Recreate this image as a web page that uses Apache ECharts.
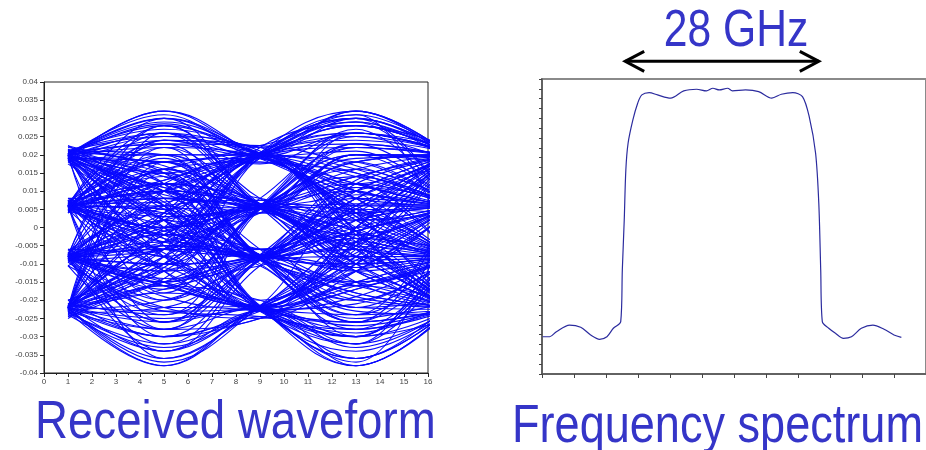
<!DOCTYPE html>
<html><head><meta charset="utf-8">
<script src="https://cdn.jsdelivr.net/npm/echarts@6/dist/echarts.min.js"></script>
<style>html,body{margin:0;padding:0;background:#fff}#c{width:926px;height:450px}</style>
</head><body><div id="c"></div>
<script>
// ---- Eye diagram (received waveform) ----
const eyeX = [1, 5, 9, 13, 17];            // sample instants of each trace
const eyeTraces = [
 [.0200,.0310,.0205,.0320,.0195],[.0195,.0285,.0190,.0150,.0060],[.0210,.0270,.0200,.0050,-.0080],
 [.0185,.0250,.0210,-.0010,-.0220],[.0205,.0230,.0195,.0260,.0205],[.0190,.0180,.0060,.0140,.0200],
 [.0215,.0140,.0055,.0065,.0060],[.0200,.0110,.0065,-.0010,-.0085],[.0195,.0090,.0050,-.0080,-.0225],
 [.0205,.0230,.0060,.0200,.0195],[.0180,.0060,-.0080,.0060,.0200],[.0200,.0020,-.0085,-.0010,.0055],
 [.0210,.0100,-.0075,-.0100,-.0080],[.0195,-.0020,-.0090,-.0180,-.0220],[.0190,.0000,-.0220,-.0020,.0200],
 [.0205,-.0050,-.0215,-.0090,.0060],[.0200,.0060,-.0230,-.0170,-.0080],[.0185,-.0080,-.0220,-.0300,-.0225],
 [.0200,.0290,.0200,.0100,-.0080],[.0210,.0170,.0060,.0260,.0205],[.0195,.0120,-.0080,.0090,.0060],
 [.0200,.0020,-.0220,-.0260,-.0220],[.0190,.0260,.0195,.0210,.0060],[.0205,.0150,.0050,.0180,.0055],
 [.0215,.0050,-.0085,.0020,.0190],
 [.0060,.0240,.0200,.0300,.0200],[.0055,.0200,.0195,.0120,.0055],[.0065,.0160,.0205,.0020,-.0085],
 [.0050,.0130,.0190,-.0040,-.0215],[.0060,.0150,.0055,.0200,.0200],[.0070,.0030,.0060,.0120,.0060],
 [.0055,.0100,.0065,-.0030,-.0080],[.0065,.0000,.0050,-.0100,-.0225],[.0060,.0040,-.0080,.0080,.0200],
 [.0045,-.0020,-.0085,.0020,.0060],[.0075,-.0060,-.0075,-.0020,-.0080],[.0060,.0050,-.0090,-.0160,-.0220],
 [.0055,-.0080,-.0220,.0000,.0200],[.0065,-.0120,-.0215,-.0070,.0060],[.0060,-.0030,-.0230,-.0190,-.0080],
 [.0050,-.0150,-.0220,-.0280,-.0225],[.0060,.0100,.0200,.0230,.0195],[.0070,.0180,.0060,.0050,-.0085],
 [.0055,-.0010,-.0080,.0110,.0055],[.0065,.0070,.0195,.0180,.0060],[.0045,.0080,.0050,.0200,.0190],
 [.0060,-.0070,-.0225,-.0120,-.0080],[.0070,.0120,-.0080,-.0060,-.0220],
 [-.0080,.0100,.0200,.0280,.0200],[-.0085,.0060,.0195,.0100,.0060],[-.0075,.0020,.0205,.0000,-.0080],
 [-.0090,.0120,.0190,-.0060,-.0220],[-.0080,-.0010,.0060,.0160,.0200],[-.0070,.0050,.0055,.0000,.0060],
 [-.0085,-.0040,.0065,.0040,-.0080],[-.0080,-.0060,.0050,-.0120,-.0225],[-.0075,-.0020,-.0080,.0100,.0200],
 [-.0090,-.0120,-.0085,-.0040,.0055],[-.0080,-.0060,-.0075,-.0160,-.0080],[-.0085,-.0150,-.0090,-.0080,-.0220],
 [-.0070,-.0160,-.0220,-.0040,.0200],[-.0080,-.0220,-.0215,-.0100,.0060],[-.0090,-.0110,-.0230,-.0150,-.0080],
 [-.0075,-.0260,-.0220,-.0320,-.0225],[-.0080,.0040,.0195,.0220,.0195],[-.0085,.0020,.0060,.0190,.0195],
 [-.0080,-.0100,-.0080,.0030,.0060],[-.0070,-.0190,-.0225,-.0210,-.0085],[-.0095,.0000,.0055,-.0060,-.0080],
 [-.0080,-.0040,-.0085,-.0200,-.0220],
 [-.0220,.0000,.0200,.0260,.0200],[-.0225,-.0040,.0195,.0140,.0060],[-.0215,.0040,.0205,.0030,-.0080],
 [-.0230,-.0080,.0190,-.0020,-.0220],[-.0220,-.0060,.0060,.0180,.0200],[-.0210,-.0100,.0055,.0020,.0060],
 [-.0225,-.0140,.0065,-.0030,-.0080],[-.0220,-.0020,.0050,-.0150,-.0225],[-.0220,-.0170,-.0080,.0060,.0200],
 [-.0235,-.0220,-.0085,-.0010,.0055],[-.0215,-.0120,-.0075,-.0120,-.0080],[-.0220,-.0260,-.0090,-.0190,-.0220],
 [-.0225,-.0300,-.0220,-.0080,.0200],[-.0220,-.0380,-.0215,-.0120,.0060],[-.0210,-.0340,-.0230,-.0240,-.0080],
 [-.0230,-.0280,-.0220,-.0380,-.0225],[-.0220,-.0250,-.0225,-.0330,-.0220],[-.0215,-.0080,.0060,.0230,.0195],
 [-.0225,-.0200,-.0080,.0080,.0055],[-.0220,.0030,.0195,.0250,.0205],[-.0235,-.0160,-.0220,-.0170,-.0085],
 [-.0220,-.0050,-.0085,-.0260,-.0220],[-.0215,-.0230,-.0220,-.0050,.0060],[-.0220,-.0120,.0055,-.0090,-.0080],
 // steeper passes through the sampling instants
 [.0205,.0120,.0200,.0280,.0200],[.0190,.0320,.0195,.0080,-.0080],[.0200,.0080,.0205,.0300,.0060],
 [.0210,.0250,.0190,.0040,-.0225],[.0195,.0050,.0200,.0240,.0205],[.0200,.0300,.0205,.0120,.0055],
 [.0185,.0200,.0060,-.0050,-.0080],[.0205,.0280,.0055,-.0080,-.0220],[.0195,.0260,.0065,-.0020,.0060],
 [.0200,.0030,.0060,.0220,.0200],[.0210,.0200,-.0080,-.0180,-.0220],[.0190,.0160,-.0085,-.0150,-.0080],
 [.0200,.0220,-.0075,-.0100,.0060],[.0205,-.0100,-.0080,.0120,.0195],[.0195,.0120,-.0220,-.0340,-.0225],
 [.0200,.0080,-.0215,-.0280,-.0080],[.0190,-.0120,-.0225,-.0260,.0060],
 [.0060,.0300,.0195,.0080,-.0080],[.0055,-.0060,.0200,.0310,.0200],[.0065,.0260,.0205,.0100,.0060],
 [.0050,-.0020,.0190,.0260,.0205],[.0060,.0180,.0060,-.0060,-.0220],[.0070,-.0080,.0055,.0180,.0200],
 [.0055,.0220,.0065,-.0040,-.0080],[.0065,-.0100,.0050,.0140,.0060],[.0060,.0160,-.0080,-.0220,-.0225],
 [.0045,.0180,-.0085,-.0200,-.0080],[.0075,-.0200,-.0075,.0040,.0200],[.0060,.0100,-.0090,-.0240,.0060],
 [.0055,.0060,-.0220,-.0360,-.0220],[.0065,.0100,-.0215,-.0300,-.0080],[.0060,-.0300,-.0230,-.0100,.0200],
 [.0050,.0000,-.0220,-.0320,.0060],
 [-.0080,.0280,.0200,.0060,-.0080],[-.0085,-.0120,.0195,.0300,.0200],[-.0075,.0240,.0205,.0080,.0060],
 [-.0090,-.0060,.0190,.0290,.0195],[-.0080,.0200,.0060,-.0080,-.0220],[-.0070,-.0160,.0055,.0200,.0200],
 [-.0085,.0160,.0065,-.0060,-.0080],[-.0080,-.0200,.0050,.0160,.0060],[-.0075,.0120,-.0080,-.0240,-.0225],
 [-.0090,-.0260,-.0085,.0080,.0200],[-.0080,.0060,-.0075,-.0200,-.0080],[-.0085,-.0240,-.0090,.0040,.0055],
 [-.0070,.0040,-.0220,-.0360,-.0220],[-.0080,-.0340,-.0215,-.0060,.0200],[-.0090,.0000,-.0230,-.0320,-.0080],
 [-.0075,-.0320,-.0220,-.0080,.0060],
 [-.0220,.0100,.0200,.0280,.0200],[-.0225,.0220,.0195,.0040,-.0080],[-.0215,-.0100,.0205,.0320,.0195],
 [-.0230,.0180,.0190,.0060,.0060],[-.0220,.0160,.0060,-.0100,-.0220],[-.0210,-.0240,.0055,.0220,.0200],
 [-.0225,.0120,.0065,-.0080,-.0080],[-.0220,-.0280,.0050,.0200,.0060],[-.0220,.0080,-.0080,-.0260,-.0225],
 [-.0235,-.0320,-.0085,.0100,.0200],[-.0215,.0020,-.0075,-.0220,-.0080],[-.0220,-.0300,-.0090,.0060,.0055],
 [-.0225,-.0060,-.0220,-.0380,-.0220],[-.0220,-.0360,-.0215,-.0040,.0200],[-.0210,-.0100,-.0230,-.0300,-.0080],
 [-.0230,-.0330,-.0220,-.0100,.0060],
 [.0200,.0150,.0200,.0120,.0200],[.0060,.0080,.0060,.0040,.0060],[-.0080,-.0050,-.0080,-.0110,-.0080],
 [-.0220,-.0180,-.0220,-.0270,-.0220],[.0195,.0100,.0060,.0100,.0195],[.0060,-.0040,-.0080,-.0040,.0060],
 [-.0080,-.0160,-.0220,-.0160,-.0080],[.0205,.0200,.0200,.0150,.0060],[.0055,.0000,.0060,.0100,-.0080],
 [-.0085,-.0150,-.0080,-.0120,-.0220],[.0210,.0060,-.0080,-.0150,-.0220],[-.0220,-.0080,.0060,.0140,.0200],
 [.0190,.0110,.0060,-.0020,-.0080],[-.0215,-.0150,-.0080,.0000,.0060],[.0060,.0130,.0200,.0160,.0060],
 [-.0080,-.0150,-.0220,-.0150,-.0080],
 // noisier traces around the level bundles
 [.0195,-.0040,.0205,.0300,.0190],[.0060,.0000,.0195,.0290,.0060],[-.0080,-.0020,.0200,.0310,-.0080],
 [.0200,.0300,.0055,-.0110,.0060],[.0060,.0280,.0065,-.0100,-.0080],[-.0220,.0260,.0060,-.0120,-.0220],
 [.0190,-.0180,.0060,.0260,.0200],[-.0080,-.0150,.0055,.0270,.0060],[.0060,.0190,-.0085,-.0260,-.0080],
 [-.0220,.0150,-.0080,-.0280,-.0220],[.0200,-.0260,-.0075,.0130,.0200],[.0060,-.0280,-.0085,.0120,-.0080],
 [.0200,.0060,-.0220,-.0380,-.0220],[-.0080,.0020,-.0225,-.0370,.0060],[-.0220,-.0370,-.0215,.0040,-.0080],
 [.0060,-.0360,-.0220,.0000,.0200],[.0180,.0240,.0175,.0260,.0220],[.0225,.0180,.0225,.0290,.0180],
 [.0040,.0120,.0080,.0020,.0040],[.0080,.0000,.0040,.0110,.0080],[-.0060,-.0140,-.0105,-.0030,-.0060],
 [-.0105,-.0020,-.0060,-.0150,-.0105],[-.0200,-.0300,-.0250,-.0160,-.0200],[-.0250,-.0160,-.0200,-.0300,-.0250],
 [.0185,.0070,-.0100,-.0250,-.0200],[-.0240,-.0110,.0080,.0250,.0180],[.0220,.0150,-.0060,-.0230,-.0240],
 [-.0200,-.0060,.0220,.0280,.0220],[.0045,.0160,.0180,.0020,-.0105],[-.0105,-.0220,-.0250,-.0120,.0040],
 [.0075,-.0030,-.0060,.0080,.0180],[-.0065,.0060,.0075,-.0100,-.0250],[.0210,.0260,.0080,-.0050,-.0060],
 [-.0240,-.0340,-.0105,.0050,.0040],[.0050,.0230,.0225,.0170,.0080],[-.0095,-.0230,-.0245,-.0290,-.0200],
 [.0175,.0020,-.0060,.0050,.0220],[-.0200,-.0100,.0040,-.0050,-.0250],[.0225,.0100,.0040,.0200,.0175],
 [-.0245,-.0150,-.0060,-.0220,-.0200],[.0080,.0100,.0180,.0030,-.0200],[-.0060,-.0080,-.0200,-.0050,.0220],
 [.0040,.0240,.0220,-.0010,-.0250],[-.0105,-.0280,-.0250,.0000,.0225],[.0190,.0320,.0220,.0320,.0180],
 [-.0230,-.0380,-.0245,-.0360,-.0200],[.0200,-.0020,.0040,.0230,.0080],[-.0220,-.0050,-.0105,-.0300,-.0060],
 [.0060,.0140,-.0060,.0050,.0200],[-.0080,-.0170,.0075,-.0010,-.0220]
];

// ---- Frequency spectrum ----
const specX = [0.02,0.24,0.45,0.86,1.21,1.52,1.80,2.03,2.23,2.46,2.51,2.57,2.62,2.69,2.84,2.99,3.12,3.35,3.61,4.02,
  4.43,4.83,5.14,5.34,5.54,5.80,5.95,6.36,6.77,7.18,7.48,7.84,8.14,8.35,8.55,8.65,8.71,8.76,8.96,9.17,9.42,9.67,9.98,
  10.34,10.69,11.00,11.23];
const specY = [3.79,3.79,4.30,4.98,4.75,3.97,3.53,3.79,4.65,5.32,10.58,15.67,20.75,23.47,25.84,27.54,28.38,28.62,28.38,28.05,
  28.79,28.96,28.79,29.06,28.89,29.06,28.79,28.89,28.72,28.05,28.45,28.62,28.21,26.17,22.45,17.37,10.58,5.32,4.65,4.14,3.63,3.79,4.65,
  4.98,4.55,3.97,3.73];
const bandEdges = [2.6, 8.65];     // arrow marking the 28 GHz band
const bandLabel = '28 GHz';
const titles = ['Received waveform', 'Frequency spectrum'];

const chart = echarts.init(document.getElementById('c'), null, {renderer: 'canvas'});
const series = eyeTraces.map(t => ({
  type: 'line', xAxisIndex: 0, yAxisIndex: 0, silent: true, showSymbol: false, smooth: 0.4,
  lineStyle: {color: '#0808ff', width: 1.1}, clip: true,
  data: t.map((v, i) => [eyeX[i], v])
}));
series.push({
  type: 'line', xAxisIndex: 1, yAxisIndex: 1, silent: true, showSymbol: false, smooth: 0.3,
  lineStyle: {color: '#2b2b9e', width: 1.2},
  data: specX.map((x, i) => [x, specY[i]])
});
const lblFont = {fontFamily: 'Liberation Sans', fontSize: 8, color: '#444'};
chart.setOption({
  animation: false,
  grid: [
    {left: 44, top: 82, width: 384, height: 291, show: true, borderColor: '#222', borderWidth: 1},
    {left: 542, top: 79, width: 392.4, height: 295, show: true, borderColor: '#8a8a8a', borderWidth: 2}
  ],
  xAxis: [
    {type: 'value', gridIndex: 0, min: 0, max: 16, interval: 1,
     axisLine: {onZero: false, lineStyle: {color: '#222', width: 1}}, axisTick: {length: 4, lineStyle: {color: '#222'}},
     minorTick: {show: true, splitNumber: 2, length: 2, lineStyle: {color: '#222'}},
     splitLine: {show: false}, axisLabel: Object.assign({margin: 5}, lblFont)},
    {type: 'value', gridIndex: 1, min: 0, max: 12, interval: 1,
     axisLine: {onZero: false, lineStyle: {color: '#555', width: 1.5}}, axisTick: {length: 4, lineStyle: {color: '#444'}},
     splitLine: {show: false}, axisLabel: {show: false}}
  ],
  yAxis: [
    {type: 'value', gridIndex: 0, min: -0.04, max: 0.04, interval: 0.005,
     axisLine: {show: true, onZero: false, lineStyle: {color: '#222', width: 1}}, axisTick: {show: true, length: 4, lineStyle: {color: '#222'}},
     splitLine: {show: false},
     axisLabel: Object.assign({margin: 6, formatter: v => String(Math.round(v * 1000) / 1000)}, lblFont)},
    {type: 'value', gridIndex: 1, min: 0, max: 30, interval: 1,
     axisLine: {show: true, onZero: false, lineStyle: {color: '#555', width: 1.5}}, axisTick: {show: true, length: 3, lineStyle: {color: '#444'}},
     splitLine: {show: false}, axisLabel: {show: false}}
  ],
  series: series
});

const pL = chart.convertToPixel({gridIndex: 1}, [bandEdges[0], 31.8]);
const pR = chart.convertToPixel({gridIndex: 1}, [bandEdges[1], 31.8]);
const ay = pL[1], ah = 19, aw = 10;
const txtColor = '#3535c8';
chart.setOption({
  graphic: [
    {type: 'polyline', shape: {points: [[pL[0], ay], [pR[0], ay]]}, style: {stroke: '#000', lineWidth: 3}},
    {type: 'polyline', shape: {points: [[pL[0] + ah, ay - aw], [pL[0], ay], [pL[0] + ah, ay + aw]]}, style: {stroke: '#000', lineWidth: 3, fill: null}},
    {type: 'polyline', shape: {points: [[pR[0] - ah, ay - aw], [pR[0], ay], [pR[0] - ah, ay + aw]]}, style: {stroke: '#000', lineWidth: 3, fill: null}},
    {type: 'text', x: (pL[0] + pR[0]) / 2 + 14, y: 32, scaleX: 0.82,
     style: {text: bandLabel, font: '52px "Liberation Sans"', fill: txtColor, align: 'center', verticalAlign: 'middle'}},
    {type: 'text', x: 35, y: 423, scaleX: 0.845,
     style: {text: titles[0], font: '54px "Liberation Sans"', fill: txtColor, align: 'left', verticalAlign: 'middle'}},
    {type: 'text', x: 512, y: 427, scaleX: 0.835,
     style: {text: titles[1], font: '54px "Liberation Sans"', fill: txtColor, align: 'left', verticalAlign: 'middle'}}
  ]
});
</script></body></html>
